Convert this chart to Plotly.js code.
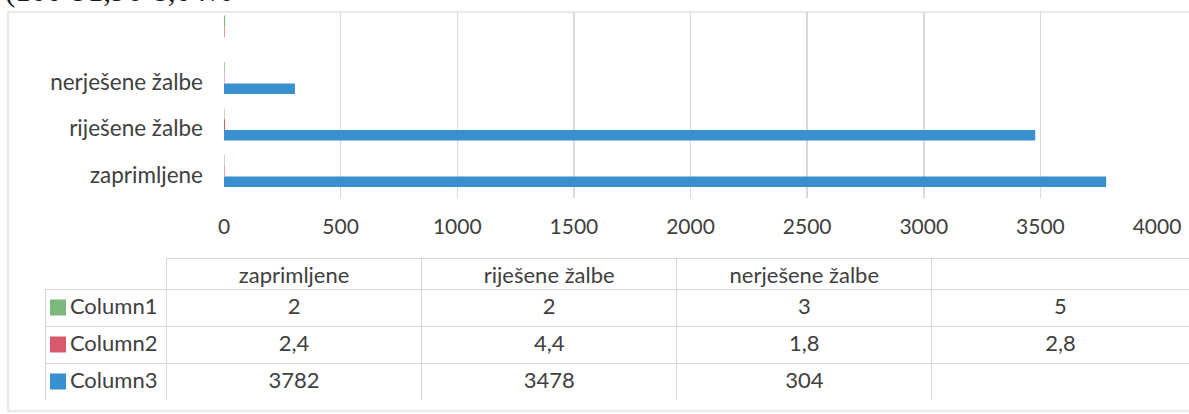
<!DOCTYPE html>
<html>
<head>
<meta charset="utf-8">
<script src="https://cdn.plot.ly/plotly-3.0.1.min.js"></script>
<style>html,body{margin:0;padding:0;background:#fff;}#chart{width:1189px;height:414px;}</style>
</head>
<body>
<div id="chart"></div>
<script>
// ---- data ----
const categories = ["zaprimljene", "riješene žalbe", "nerješene žalbe", ""];
const seriesNames = ["Column1", "Column2", "Column3"];
const column1 = [2, 2, 3, 5];
const column2 = [2.4, 4.4, 1.8, 2.8];
const column3 = [3782, 3478, 304, null];
const xTicks = [0, 500, 1000, 1500, 2000, 2500, 3000, 3500, 4000];
const caption = "(100-91,96-8,04%";

// ---- styles ----
const colors = ["#7ab97b", "#d65a6c", "#3a8fce"];
const textColor = "#404040";
const W = 1189, H = 414;
const axisCats = categories.map(c => c === "" ? " " : c);
const seriesValues = [column1, column2, column3];
const offsets = [0.195, -0.035, -0.265];

const traces = seriesValues.map((vals, i) => ({
  type: "bar",
  orientation: "h",
  name: seriesNames[i],
  y: axisCats,
  x: vals,
  width: 0.23,
  offset: offsets[i],
  marker: {color: colors[i]},
  hoverinfo: "x+y",
  xaxis: "x", yaxis: "y"
}));

// legend keys of the data table, one per series row
traces.push({
  type: "scatter",
  mode: "markers",
  x: seriesNames.map(() => 0),
  y: seriesNames,
  marker: {symbol: "square", size: 16, color: colors, line: {width: 0}},
  cliponaxis: false,
  xaxis: "x2", yaxis: "y2",
  hoverinfo: "skip"
});

const fmt = v => (v === null || v === undefined) ? "" : String(v).replace(".", ",");
const pad = "\u00a0\u00a0\u00a0";
const rowLabels = seriesNames.map(n => pad + n);
const tableColumns = [rowLabels].concat(categories.map((c, j) => seriesValues.map(s => fmt(s[j]))));
const clear = "rgba(0,0,0,0)";

traces.push({
  type: "table",
  domain: {x: [45 / W, 1], y: [(H - 400) / H, (H - 258) / H]},
  columnwidth: [121, 254, 254, 254, 256],
  header: {
    values: [""].concat(categories),
    height: 31,
    align: "center",
    line: {color: [clear, "#d6d6d6", "#d6d6d6", "#d6d6d6", "#d6d6d6"], width: 1},
    fill: {color: [clear, "#ffffff", "#ffffff", "#ffffff", "#ffffff"]},
    font: {family: "Lato, sans-serif", size: 22, color: textColor}
  },
  cells: {
    values: tableColumns,
    height: 37,
    align: ["left", "center", "center", "center", "center"],
    line: {color: "#d6d6d6", width: 1},
    fill: {color: [clear, "#ffffff", "#ffffff", "#ffffff", "#ffffff"]},
    font: {family: "Lato, sans-serif", size: 22, color: textColor}
  }
});

const layout = {
  width: W, height: H,
  margin: {l: 0, r: 0, t: 0, b: 0},
  paper_bgcolor: "#ffffff",
  plot_bgcolor: "rgba(0,0,0,0)",
  showlegend: false,
  barmode: "overlay",
  font: {family: "Lato, sans-serif", color: textColor},
  xaxis: {
    domain: [224 / W, 1157 / W],
    range: [0, 4000],
    tickvals: xTicks,
    ticktext: xTicks.map(String),
    showgrid: true, gridcolor: "#d9d9d9", gridwidth: 1.5,
    zeroline: false, showline: false, ticks: "",
    ticklabelstandoff: 14,
    tickfont: {size: 21, color: textColor},
    fixedrange: true
  },
  yaxis: {
    domain: [(H - 198) / H, (H - 12) / H],
    type: "category",
    categoryorder: "array",
    categoryarray: axisCats,
    range: [-0.5, 3.5],
    showgrid: false, zeroline: false, showline: false, ticks: "",
    ticklabelstandoff: 20,
    tickfont: {size: 22.5, color: textColor},
    fixedrange: true
  },
  xaxis2: {
    domain: [46 / W, 70 / W], range: [-1, 1], anchor: "y2",
    visible: false, fixedrange: true
  },
  yaxis2: {
    domain: [(H - 400) / H, (H - 289) / H], anchor: "x2",
    type: "category", categoryorder: "array", categoryarray: seriesNames,
    range: [2.5, -0.5], visible: false, fixedrange: true
  },
  shapes: [{
    type: "rect", xref: "paper", yref: "paper",
    x0: 8 / W, x1: 1.01, y0: 3 / H, y1: (H - 12) / H,
    line: {color: "#e2e2e2", width: 1.5}, fillcolor: "rgba(0,0,0,0)", layer: "below"
  }],
  annotations: [{
    xref: "paper", yref: "paper", x: 3 / W, y: 1 - 10 / H,
    xanchor: "left", yanchor: "bottom", showarrow: false,
    text: caption,
    font: {family: "Liberation Serif, serif", size: 31, color: "#1a1a1a"}
  }]
};

Plotly.newPlot("chart", traces, layout, {displayModeBar: false, staticPlot: true});
</script>
</body>
</html>
